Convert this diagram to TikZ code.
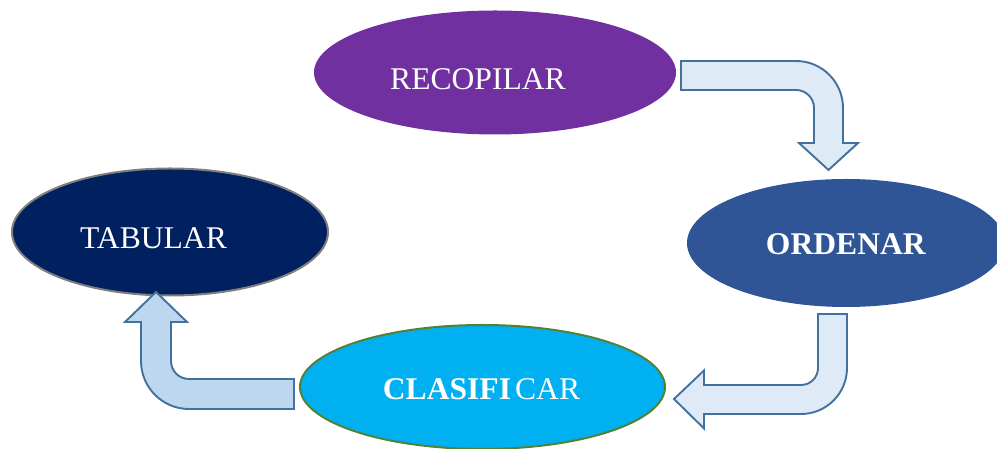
\documentclass[tikz,border=0pt]{standalone}
\usepackage{fontspec}
\setmainfont{Liberation Serif}
\usetikzlibrary{shapes.geometric}
\definecolor{cpurple}{HTML}{7030A0}
\definecolor{cord}{HTML}{2F5597}
\definecolor{ctab}{HTML}{002060}
\definecolor{ccla}{HTML}{00B0F0}
\definecolor{cclaborder}{HTML}{538135}
\definecolor{cgrey}{HTML}{7F7F7F}
\definecolor{arrfill}{HTML}{DEEBF7}
\definecolor{arrfilltwo}{HTML}{BDD7EE}
\definecolor{arrdraw}{HTML}{41719C}
\tikzset{
  blob/.style={ellipse, inner sep=0pt, outer sep=0pt},
  lbl/.style={anchor=base, text=white, inner sep=0pt, font=\fontsize{31.6}{38}\selectfont},
  blockarrow/.style={draw=arrdraw, line width=1.9pt, line join=miter},
}
\begin{document}
\begin{tikzpicture}[x=1pt,y=1pt]
\useasboundingbox (0,0) rectangle (997,449);
% ellipses
\node[blob, fill=cpurple, minimum width=362pt, minimum height=124pt] (rec) at (495,376.5) {};
\node[blob, fill=cord, minimum width=318pt, minimum height=128pt] (ord) at (846,206) {};
\node[blob, fill=ctab, draw=cgrey, line width=2pt, minimum width=316pt, minimum height=127pt] (tab) at (170,217) {};
\node[blob, fill=ccla, draw=cclaborder, line width=2pt, minimum width=365pt, minimum height=124pt] (cla) at (482.5,62) {};
% labels
\node[lbl] (trec) at (478,359.3) {RECOPILAR};
\node[lbl] (tord) at (846,194) {\textbf{ORDENAR}};
\node[lbl] (ttab) at (153.5,200) {TABULAR};
\node[lbl] (tcla) at (481.5,49) {\textbf{CLASIFI}\hspace{4pt}CAR};
% arrow RECOPILAR -> ORDENAR
\draw[blockarrow, fill=arrfill] (681,388) -- (796,388) arc[start angle=90, end angle=0, radius=47pt]
  -- (843,306) -- (858,306) -- (828.5,279) -- (799,306) -- (814,306) -- (814,341)
  arc[start angle=0, end angle=90, radius=18pt] -- (681,359) -- cycle;
% arrow ORDENAR -> CLASIFICAR
\draw[blockarrow, fill=arrfill] (818,135) -- (847,135) -- (847,81) arc[start angle=0, end angle=-90, radius=46pt]
  -- (704,35) -- (704,20.5) -- (674,50) -- (704,78.5) -- (704,64) -- (801,64)
  arc[start angle=-90, end angle=0, radius=17pt] -- cycle;
% arrow CLASIFICAR -> TABULAR
\draw[blockarrow, fill=arrfilltwo] (294,70) -- (189,70) arc[start angle=-90, end angle=-180, radius=18pt]
  -- (171,127) -- (187,127) -- (156,157) -- (125,127) -- (141,127) -- (141,88)
  arc[start angle=180, end angle=270, radius=48pt] -- (294,40) -- cycle;
\end{tikzpicture}
\end{document}
